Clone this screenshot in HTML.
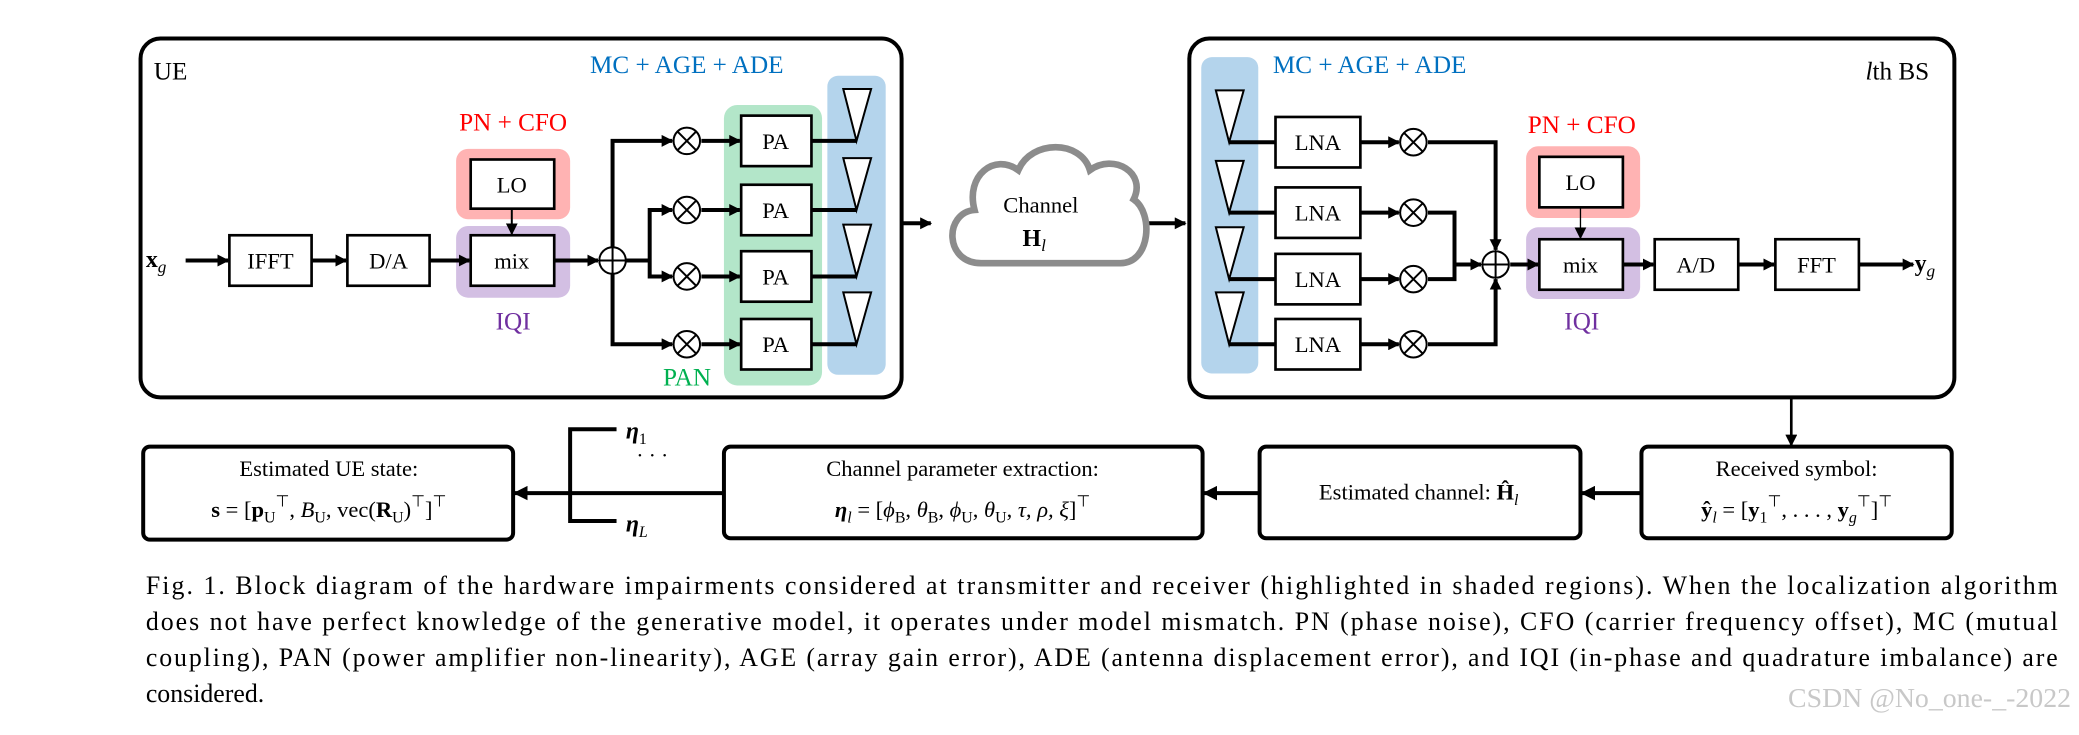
<!DOCTYPE html>
<html><head><meta charset="utf-8"><style>
html,body{margin:0;padding:0;background:#fff;}
svg{display:block;}
svg text{font-family:"Liberation Serif",serif;}
</style></head><body>
<svg width="2079" height="735" viewBox="0 0 1568 553" preserveAspectRatio="none" xmlns="http://www.w3.org/2000/svg" font-family="Liberation Serif, serif">
<defs>
<marker id="a" markerWidth="9" markerHeight="9" refX="8" refY="4.5" orient="auto" markerUnits="userSpaceOnUse" viewBox="0 0 9 9">
<path d="M0,0 L9,4.5 L0,9 z" fill="#000"/></marker>
<marker id="b" markerWidth="11" markerHeight="11" refX="10" refY="5.5" orient="auto" markerUnits="userSpaceOnUse" viewBox="0 0 11 11">
<path d="M0,0 L11,5.5 L0,11 z" fill="#000"/></marker>
</defs>
<g fill="none" stroke="#000">
<rect x="106" y="29" width="574" height="270" rx="15" stroke-width="3"/>
<rect x="897" y="29" width="577" height="270" rx="15" stroke-width="3"/>
</g>
<rect x="624" y="57" width="44" height="225" rx="8" fill="#b4d4ec"/>
<rect x="546" y="79" width="74" height="211" rx="10" fill="#b3e6c9"/>
<rect x="344" y="112" width="86" height="53" rx="9" fill="#ffb3b3"/>
<rect x="344" y="170" width="86" height="54" rx="9" fill="#d3bfe3"/>
<rect x="906" y="43" width="43" height="238" rx="8" fill="#b4d4ec"/>
<rect x="1151" y="110" width="86" height="54" rx="9" fill="#ffb3b3"/>
<rect x="1151" y="171" width="86" height="54" rx="9" fill="#d3bfe3"/>

<g font-size="19">
<text x="116" y="60">UE</text>
<text x="445" y="55" fill="#0070c0">MC + AGE + ADE</text>
<text x="387" y="98" fill="#ff0000" text-anchor="middle">PN + CFO</text>
<text x="387" y="248" fill="#7030a0" text-anchor="middle">IQI</text>
<text x="500" y="290" fill="#00b050">PAN</text>
<text x="960" y="55" fill="#0070c0">MC + AGE + ADE</text>
<text x="1455" y="60" text-anchor="end"><tspan font-style="italic">l</tspan>th BS</text>
<text x="1193" y="100" fill="#ff0000" text-anchor="middle">PN + CFO</text>
<text x="1193" y="248" fill="#7030a0" text-anchor="middle">IQI</text>
</g>

<g fill="#fff" stroke="#000" stroke-width="2">
<rect x="173" y="177" width="62" height="38"/>
<rect x="262" y="177" width="62" height="38"/>
<rect x="355" y="177" width="63" height="38"/>
<rect x="355" y="120" width="63" height="37"/>
<rect x="559" y="87" width="53" height="38"/>
<rect x="559" y="139" width="53" height="38"/>
<rect x="559" y="189" width="53" height="38"/>
<rect x="559" y="240" width="53" height="38"/>
</g>
<g font-size="17" text-anchor="middle">
<text x="204" y="202">IFFT</text>
<text x="293" y="202">D/A</text>
<text x="386" y="202">mix</text>
<text x="386" y="145">LO</text>
<text x="585" y="112">PA</text>
<text x="585" y="164">PA</text>
<text x="585" y="214">PA</text>
<text x="585" y="265">PA</text>
</g>
<text x="110" y="201" font-size="18" font-weight="bold">x<tspan font-size="13" font-weight="normal" font-style="italic" dy="4">g</tspan></text>
<g stroke="#000" stroke-width="3" fill="none">
<line x1="140" y1="196" x2="172" y2="196" marker-end="url(#a)"/>
<line x1="235" y1="196" x2="261" y2="196" marker-end="url(#a)"/>
<line x1="324" y1="196" x2="354" y2="196" marker-end="url(#a)"/>
<line x1="386" y1="157" x2="386" y2="176" stroke-width="1.5" marker-end="url(#a)"/>
<line x1="418" y1="196" x2="451" y2="196" marker-end="url(#a)"/>
<polyline points="462,186 462,106 507,106" marker-end="url(#a)"/>
<polyline points="462,206 462,259 507,259" marker-end="url(#a)"/>
<polyline points="472,196 490,196"/>
<polyline points="490,196 490,158 507,158" marker-end="url(#a)"/>
<polyline points="490,196 490,208 507,208" marker-end="url(#a)"/>
<line x1="529" y1="106" x2="558" y2="106" marker-end="url(#a)"/>
<line x1="529" y1="158" x2="558" y2="158" marker-end="url(#a)"/>
<line x1="529" y1="208" x2="558" y2="208" marker-end="url(#a)"/>
<line x1="529" y1="259" x2="558" y2="259" marker-end="url(#a)"/>
<line x1="612" y1="106" x2="646" y2="106"/>
<line x1="612" y1="158" x2="646" y2="158"/>
<line x1="612" y1="208" x2="646" y2="208"/>
<line x1="612" y1="259" x2="646" y2="259"/>
<line x1="680" y1="168" x2="702" y2="168" marker-end="url(#a)"/>
<line x1="866" y1="168" x2="894" y2="168" marker-end="url(#a)"/>
</g>
<g fill="#fff" stroke="#000" stroke-width="1.5">
<circle cx="462" cy="196" r="10"/>
<circle cx="518" cy="106" r="10"/><circle cx="518" cy="158" r="10"/>
<circle cx="518" cy="208" r="10"/><circle cx="518" cy="259" r="10"/>
</g>
<g stroke="#000" stroke-width="1.5">
<line x1="452" y1="196" x2="472" y2="196"/><line x1="462" y1="186" x2="462" y2="206"/>
<path d="M511,99 L525,113 M525,99 L511,113"/>
<path d="M511,151 L525,165 M525,151 L511,165"/>
<path d="M511,201 L525,215 M525,201 L511,215"/>
<path d="M511,252 L525,266 M525,252 L511,266"/>
</g>
<g fill="#fff" stroke="#000" stroke-width="1.5">
<path d="M636,67 L657,67 L646,106 z"/>
<path d="M636,119 L657,119 L646,158 z"/>
<path d="M636,169 L657,169 L646,208 z"/>
<path d="M636,220 L657,220 L646,259 z"/>
</g>
<path d="M740,198 C712,198 712,160 735,158 C728,132 750,115 768,128 C778,105 815,105 822,128 C840,115 865,130 855,150 C870,160 868,198 845,198 Z" fill="#fff" stroke="#8c8c8c" stroke-width="5"/>
<text x="785" y="160" font-size="17" text-anchor="middle">Channel</text>
<text x="780" y="185" font-size="18" font-weight="bold" text-anchor="middle">H<tspan font-size="13" font-weight="normal" font-style="italic" dy="4">l</tspan></text>

<g fill="#fff" stroke="#000" stroke-width="2">
<rect x="962" y="88" width="64" height="38"/>
<rect x="962" y="141" width="64" height="38"/>
<rect x="962" y="191" width="64" height="38"/>
<rect x="962" y="240" width="64" height="38"/>
<rect x="1161" y="118" width="63" height="38"/>
<rect x="1161" y="180" width="63" height="38"/>
<rect x="1248" y="180" width="63" height="38"/>
<rect x="1339" y="180" width="63" height="38"/>
</g>
<g font-size="17" text-anchor="middle">
<text x="994" y="113">LNA</text><text x="994" y="166">LNA</text>
<text x="994" y="216">LNA</text><text x="994" y="265">LNA</text>
<text x="1192" y="143">LO</text><text x="1192" y="205">mix</text>
<text x="1279" y="205">A/D</text><text x="1370" y="205">FFT</text>
</g>
<text x="1444" y="204" font-size="18" font-weight="bold">y<tspan font-size="13" font-weight="normal" font-style="italic" dy="4">g</tspan></text>
<g stroke="#000" stroke-width="3" fill="none">
<line x1="927" y1="107" x2="962" y2="107"/>
<line x1="927" y1="160" x2="962" y2="160"/>
<line x1="927" y1="210" x2="962" y2="210"/>
<line x1="927" y1="259" x2="962" y2="259"/>
<line x1="1026" y1="107" x2="1055" y2="107" marker-end="url(#a)"/>
<line x1="1026" y1="160" x2="1055" y2="160" marker-end="url(#a)"/>
<line x1="1026" y1="210" x2="1055" y2="210" marker-end="url(#a)"/>
<line x1="1026" y1="259" x2="1055" y2="259" marker-end="url(#a)"/>
<polyline points="1077,107 1128,107 1128,188" marker-end="url(#a)"/>
<polyline points="1077,259 1128,259 1128,210" marker-end="url(#a)"/>
<polyline points="1077,160 1097,160 1097,210 1077,210"/>
<line x1="1097" y1="199" x2="1117" y2="199" marker-end="url(#a)"/>
<line x1="1139" y1="199" x2="1160" y2="199" marker-end="url(#a)"/>
<line x1="1192" y1="156" x2="1192" y2="179" stroke-width="1" marker-end="url(#a)"/>
<line x1="1224" y1="199" x2="1247" y2="199" marker-end="url(#a)"/>
<line x1="1311" y1="199" x2="1338" y2="199" marker-end="url(#a)"/>
<line x1="1402" y1="199" x2="1443" y2="199" marker-end="url(#a)"/>
<line x1="1351" y1="299" x2="1351" y2="335" stroke-width="2" marker-end="url(#a)"/>
</g>
<g fill="#fff" stroke="#000" stroke-width="1.5">
<circle cx="1128" cy="199" r="10"/>
<circle cx="1066" cy="107" r="10"/><circle cx="1066" cy="160" r="10"/>
<circle cx="1066" cy="210" r="10"/><circle cx="1066" cy="259" r="10"/>
</g>
<g stroke="#000" stroke-width="1.5">
<line x1="1118" y1="199" x2="1138" y2="199"/><line x1="1128" y1="189" x2="1128" y2="209"/>
<path d="M1059,100 L1073,114 M1073,100 L1059,114"/>
<path d="M1059,153 L1073,167 M1073,153 L1059,167"/>
<path d="M1059,203 L1073,217 M1073,203 L1059,217"/>
<path d="M1059,252 L1073,266 M1073,252 L1059,266"/>
</g>
<g fill="#fff" stroke="#000" stroke-width="1.5">
<path d="M917,68 L938,68 L927,107 z"/>
<path d="M917,121 L938,121 L927,160 z"/>
<path d="M917,171 L938,171 L927,210 z"/>
<path d="M917,220 L938,220 L927,259 z"/>
</g>

<g fill="#fff" stroke="#000" stroke-width="3">
<rect x="108" y="336" width="279" height="70" rx="5"/>
<rect x="546" y="336" width="361" height="69" rx="5"/>
<rect x="950" y="336" width="242" height="69" rx="5"/>
<rect x="1238" y="336" width="234" height="69" rx="5"/>
</g>
<g stroke="#000" stroke-width="3" fill="none">
<line x1="1238" y1="371" x2="1193" y2="371" marker-end="url(#b)"/>
<line x1="950" y1="371" x2="908" y2="371" marker-end="url(#b)"/>
<line x1="546" y1="371" x2="388" y2="371" marker-end="url(#b)"/>
<polyline points="465,323 430,323 430,392 465,392"/>
</g>
<g font-size="17" text-anchor="middle">
<text x="248" y="358">Estimated UE state:</text>
<text x="248" y="389"><tspan font-weight="bold">s</tspan> = [<tspan font-weight="bold">p</tspan><tspan font-size="12" dy="4">U</tspan><tspan font-size="12" dy="-12">⊤</tspan><tspan dy="8">, </tspan><tspan font-style="italic">B</tspan><tspan font-size="12" dy="4">U</tspan><tspan dy="-4">, vec(</tspan><tspan font-weight="bold">R</tspan><tspan font-size="12" dy="4">U</tspan><tspan dy="-4">)</tspan><tspan font-size="12" dy="-8">⊤</tspan><tspan dy="8">]</tspan><tspan font-size="12" dy="-8">⊤</tspan></text>
<text x="726" y="358">Channel parameter extraction:</text>
<text x="726" y="389"><tspan font-weight="bold" font-style="italic">η</tspan><tspan font-size="12" font-style="italic" dy="4">l</tspan><tspan dy="-4"> = [</tspan><tspan font-style="italic">ϕ</tspan><tspan font-size="12" dy="4">B</tspan><tspan dy="-4">, </tspan><tspan font-style="italic">θ</tspan><tspan font-size="12" dy="4">B</tspan><tspan dy="-4">, </tspan><tspan font-style="italic">ϕ</tspan><tspan font-size="12" dy="4">U</tspan><tspan dy="-4">, </tspan><tspan font-style="italic">θ</tspan><tspan font-size="12" dy="4">U</tspan><tspan dy="-4">, </tspan><tspan font-style="italic">τ, ρ, ξ</tspan>]<tspan font-size="12" dy="-8">⊤</tspan></text>
<text x="1070" y="376">Estimated channel: <tspan font-weight="bold">Ĥ</tspan><tspan font-size="12" font-style="italic" dy="4">l</tspan></text>
<text x="1355" y="358">Received symbol:</text>
<text x="1355" y="389"><tspan font-weight="bold">ŷ</tspan><tspan font-size="12" font-style="italic" dy="4">l</tspan><tspan dy="-4"> = [</tspan><tspan font-weight="bold">y</tspan><tspan font-size="12" dy="4">1</tspan><tspan font-size="12" dy="-12">⊤</tspan><tspan dy="8">, . . . , </tspan><tspan font-weight="bold">y</tspan><tspan font-size="12" font-style="italic" dy="4">g</tspan><tspan font-size="12" dy="-12">⊤</tspan><tspan dy="8">]</tspan><tspan font-size="12" dy="-8">⊤</tspan></text>
</g>
<text x="472" y="330" font-size="18" font-weight="bold" font-style="italic">η<tspan font-size="12" font-weight="normal" font-style="normal" dy="4">1</tspan></text>
<text x="480" y="348" font-size="16">· · ·</text>
<text x="472" y="400" font-size="18" font-weight="bold" font-style="italic">η<tspan font-size="12" font-weight="normal" dy="4">L</tspan></text>

<g font-size="19.5">
<text x="110" y="447" textLength="1442" lengthAdjust="spacing">Fig. 1.    Block diagram of the hardware impairments considered at transmitter and receiver (highlighted in shaded regions). When the localization algorithm</text>
<text x="110" y="474" textLength="1442" lengthAdjust="spacing">does not have perfect knowledge of the generative model, it operates under model mismatch. PN (phase noise), CFO (carrier frequency offset), MC (mutual</text>
<text x="110" y="501" textLength="1442" lengthAdjust="spacing">coupling), PAN (power amplifier non-linearity), AGE (array gain error), ADE (antenna displacement error), and IQI (in-phase and quadrature imbalance) are</text>
<text x="110" y="528">considered.</text>
</g>
<text x="1562" y="532" font-size="21" fill="#c8c8c8" text-anchor="end" font-family="Liberation Sans, sans-serif">CSDN @No_one-_-2022</text>
</svg>
</body></html>
